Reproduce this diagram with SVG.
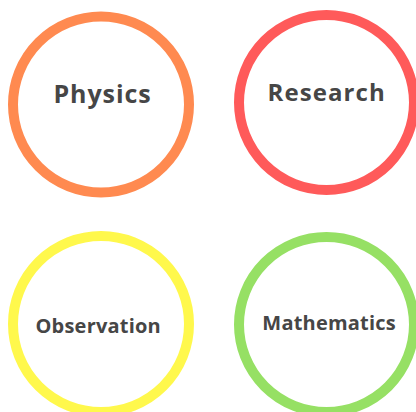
<svg xmlns="http://www.w3.org/2000/svg" width="416" height="412" viewBox="0 0 416 412">
  <style>
    .ring { fill: #ffffff; stroke-width: 10; }
    .label { font-family: "Open Sans", "Liberation Sans", sans-serif; font-weight: bold; fill: #464646; text-anchor: middle; }
  </style>
  <rect width="416" height="412" fill="#ffffff"/>
  <g id="connectors"/>
  <g id="physics">
    <circle class="ring" cx="101" cy="104.5" r="88" stroke="#FF8A50"/>
    <text class="label" x="102.5" y="103" font-size="25" letter-spacing="0.9">Physics</text>
  </g>
  <g id="research">
    <circle class="ring" cx="326.5" cy="102.5" r="87.5" stroke="#FF5A5A"/>
    <text class="label" x="326.7" y="101.3" font-size="24" letter-spacing="1.1">Research</text>
  </g>
  <g id="observation">
    <circle class="ring" cx="101" cy="324" r="88" stroke="#FFF84C"/>
    <text class="label" x="98.2" y="333" font-size="20" letter-spacing="0.2">Observation</text>
  </g>
  <g id="mathematics">
    <circle class="ring" cx="326.5" cy="324.5" r="87.5" stroke="#96E064"/>
    <text class="label" x="329.1" y="330" font-size="20" letter-spacing="0.2">Mathematics</text>
  </g>
</svg>
